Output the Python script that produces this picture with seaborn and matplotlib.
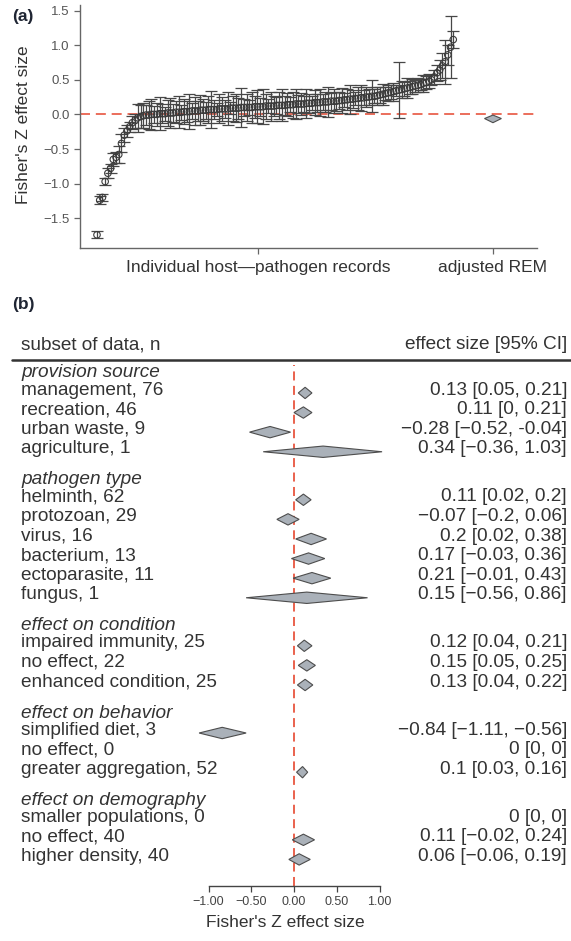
import numpy as np
import pandas as pd
import matplotlib
matplotlib.use("Agg")
import matplotlib.pyplot as plt
import seaborn as sns

# ---------------- panel (a) data: sorted record effect sizes ----------------
record_z = [
    -1.74, -1.24, -1.20, -0.97, -0.85, -0.78, -0.65, -0.62, -0.58, -0.42,
    -0.30, -0.24, -0.18, -0.12, -0.09, -0.05, -0.03,
    -0.02, -0.01, -0.01, 0.00, 0.00, 0.00, 0.01, 0.01, 0.01, 0.02, 0.02,
    0.02, 0.03, 0.03, 0.03, 0.04, 0.04, 0.04, 0.05, 0.05, 0.05,
    0.06, 0.06, 0.06, 0.07, 0.07, 0.07, 0.07, 0.08, 0.08, 0.08, 0.08,
    0.09, 0.09, 0.09, 0.09, 0.10, 0.10, 0.10, 0.10, 0.10, 0.11, 0.11,
    0.11, 0.11, 0.12, 0.12, 0.12, 0.12, 0.13, 0.13, 0.13, 0.13, 0.14,
    0.14, 0.14, 0.15, 0.15,
    0.15, 0.15, 0.16, 0.16, 0.16, 0.17, 0.17, 0.17, 0.18, 0.18, 0.18,
    0.19, 0.19, 0.19,
    0.20, 0.20, 0.21, 0.21, 0.22, 0.22, 0.23, 0.23, 0.24, 0.24, 0.25,
    0.25, 0.26, 0.26, 0.27,
    0.28, 0.29, 0.30, 0.31, 0.32, 0.33, 0.34,
    0.35, 0.36, 0.37, 0.38, 0.39, 0.40, 0.41, 0.42,
    0.43, 0.45, 0.46, 0.48, 0.50,
    0.54, 0.60, 0.64, 0.70, 0.76, 0.86, 0.97, 1.08,
]
record_ci = [
    0.05, 0.06, 0.05, 0.05, 0.07, 0.06, 0.09, 0.08, 0.12, 0.13,
    0.10, 0.08, 0.07, 0.09, 0.10, 0.20, 0.16,
    0.18, 0.15, 0.20, 0.22, 0.12, 0.17, 0.24, 0.14, 0.10, 0.19, 0.21,
    0.13, 0.16, 0.23, 0.11, 0.18, 0.15, 0.25, 0.12, 0.20, 0.14,
    0.22, 0.16, 0.12, 0.19, 0.27, 0.14, 0.10, 0.21, 0.17, 0.13, 0.24,
    0.09, 0.18, 0.20, 0.15, 0.28, 0.12, 0.19, 0.11, 0.22, 0.16, 0.24,
    0.13, 0.25, 0.18, 0.10, 0.21, 0.15, 0.12, 0.20, 0.23, 0.14, 0.17,
    0.11, 0.19, 0.22, 0.13,
    0.16, 0.12, 0.21, 0.14, 0.10, 0.18, 0.13, 0.20, 0.11, 0.15, 0.22,
    0.12, 0.17, 0.14,
    0.12, 0.18, 0.10, 0.15, 0.21, 0.13, 0.09, 0.16, 0.19, 0.11, 0.14,
    0.12, 0.23, 0.10, 0.13,
    0.11, 0.15, 0.09, 0.12, 0.10, 0.13, 0.08,
    0.40, 0.12, 0.10, 0.14, 0.09, 0.11, 0.08, 0.10,
    0.08, 0.12, 0.09, 0.10, 0.07,
    0.10, 0.12, 0.15, 0.18, 0.32, 0.14, 0.45, 0.12,
]
rem_z = -0.06
rem_lo = -0.12
rem_hi = -0.01
a_xticklabels = ["Individual host\u2014pathogen records", "adjusted REM"]
a_yticks = [-1.5, -1.0, -0.5, 0.0, 0.5, 1.0, 1.5]
a_yticklabels = ["\u22121.5", "\u22121.0", "\u22120.5", "0.0", "0.5", "1.0", "1.5"]

# ---------------- panel (b) data ----------------
group_titles = ["provision source", "pathogen type", "effect on condition",
                "effect on behavior", "effect on demography"]
subset_names = [
    ["management", "recreation", "urban waste", "agriculture"],
    ["helminth", "protozoan", "virus", "bacterium", "ectoparasite", "fungus"],
    ["impaired immunity", "no effect", "enhanced condition"],
    ["simplified diet", "no effect", "greater aggregation"],
    ["smaller populations", "no effect", "higher density"],
]
subset_n = [[76, 46, 9, 1], [62, 29, 16, 13, 11, 1], [25, 22, 25], [3, 0, 52], [0, 40, 40]]
subset_est = [[0.13, 0.11, -0.28, 0.34], [0.11, -0.07, 0.20, 0.17, 0.21, 0.15],
              [0.12, 0.15, 0.13], [-0.84, 0.0, 0.10], [0.0, 0.11, 0.06]]
subset_lo = [[0.05, 0.0, -0.52, -0.36], [0.02, -0.20, 0.02, -0.03, -0.01, -0.56],
             [0.04, 0.05, 0.04], [-1.11, 0.0, 0.03], [0.0, -0.02, -0.06]]
subset_hi = [[0.21, 0.21, -0.04, 1.03], [0.20, 0.06, 0.38, 0.36, 0.43, 0.86],
             [0.21, 0.25, 0.22], [-0.56, 0.0, 0.16], [0.0, 0.24, 0.19]]
subset_ci_text = [
    ["0.13 [0.05, 0.21]", "0.11 [0, 0.21]", "\u22120.28 [\u22120.52, -0.04]", "0.34 [\u22120.36, 1.03]"],
    ["0.11 [0.02, 0.2]", "\u22120.07 [\u22120.2, 0.06]", "0.2 [0.02, 0.38]",
     "0.17 [\u22120.03, 0.36]", "0.21 [\u22120.01, 0.43]", "0.15 [\u22120.56, 0.86]"],
    ["0.12 [0.04, 0.21]", "0.15 [0.05, 0.25]", "0.13 [0.04, 0.22]"],
    ["\u22120.84 [\u22121.11, \u22120.56]", "0 [0, 0]", "0.1 [0.03, 0.16]"],
    ["0 [0, 0]", "0.11 [\u22120.02, 0.24]", "0.06 [\u22120.06, 0.19]"],
]
b_xticks = [-1.0, -0.5, 0.0, 0.5, 1.0]
b_xticklabels = ["\u22121.00", "\u22120.50", "0.00", "0.50", "1.00"]

# ---------------- style ----------------
sns.set_theme(style="white")
plt.rcParams["font.family"] = ["Liberation Sans", "DejaVu Sans"]
TXT = "#333333"
GRID = "#666666"
RED = "#e8553f"
DIAMOND_FC = "#aab1b9"
DIAMOND_EC = "#4d4d4d"

W, H = 571, 941
fig = plt.figure(figsize=(W / 100, H / 100), dpi=100)

# ================= panel (a) =================
axa = fig.add_axes([80 / W, 1 - 248 / H, (537 - 80) / W, (248 - 5) / H])
n_rec = len(record_z)
df_a = pd.DataFrame({"pos": np.arange(1, n_rec + 1), "z": record_z, "ci": record_ci})
rem_pos = n_rec + 14.6

axa.axhline(0, color=RED, lw=1.2, ls=(0, (6, 3.5)), zorder=1)
axa.errorbar(df_a["pos"], df_a["z"], yerr=df_a["ci"], fmt="none",
             ecolor="#474747", elinewidth=0.9, capsize=4.3, capthick=0.9, zorder=2)
sns.scatterplot(data=df_a, x="pos", y="z", ax=axa, marker="o", s=22,
                facecolor="none", edgecolor="#3a3a3a", linewidth=0.8, zorder=3)

hw = 3.1
axa.fill([rem_pos - hw, rem_pos, rem_pos + hw, rem_pos],
         [rem_z, rem_hi, rem_z, rem_lo], facecolor=DIAMOND_FC,
         edgecolor=DIAMOND_EC, lw=0.8, zorder=3)

axa.set_xlim(-5.25, 162.8)
axa.set_ylim(-1.93, 1.58)
axa.set_xticks([60.2, rem_pos])
axa.set_xticklabels(a_xticklabels, fontsize=12.5, color=TXT)
axa.set_yticks(a_yticks)
axa.set_yticklabels(a_yticklabels, fontsize=9.5, color="#555555")
axa.set_xlabel("")
axa.set_ylabel("Fisher's Z effect size", fontsize=12.5, color=TXT)
axa.yaxis.set_label_coords(-0.107, 0.506)
for s in ["top", "right"]:
    axa.spines[s].set_visible(False)
for s in ["left", "bottom"]:
    axa.spines[s].set_color(GRID)
    axa.spines[s].set_linewidth(1.0)
axa.tick_params(axis="both", which="both", direction="out", length=4.5,
                width=0.9, color=GRID, left=True, bottom=True)
axa.tick_params(axis="y", pad=3)
axa.tick_params(axis="x", pad=4)

fig.text(12 / W, 1 - 16 / H, "(a)", fontsize=12.5, fontweight="bold",
         color="#1f2533", ha="left", va="center")

# ================= panel (b) =================
top_px, bot_px = 358, 886
row_px = 19.6
axb = fig.add_axes([0, 1 - bot_px / H, 1, (bot_px - top_px) / H])
axb.set_xlim(-294 / 85.5, (W - 294) / 85.5)
y_bottom = (bot_px - top_px) / row_px
axb.set_ylim(y_bottom, 0)

first_item = 1.633
head_to_item = 0.87
group_gap = 1.58

rows = []
header_rows = []
y = first_item
for gi, title in enumerate(group_titles):
    if gi > 0:
        y += group_gap + head_to_item
    header_rows.append(y - head_to_item)
    for j, name in enumerate(subset_names[gi]):
        rows.append(dict(y=y, label=f"{name}, {subset_n[gi][j]}",
                         est=subset_est[gi][j], lo=subset_lo[gi][j],
                         hi=subset_hi[gi][j], ci=subset_ci_text[gi][j]))
        if j < len(subset_names[gi]) - 1:
            y += 1.0
df_b = pd.DataFrame(rows)

FS = 13.7
ytrans = axb.get_yaxis_transform()
left_x = 21 / W
right_x = 567 / W

# header
axb.text(left_x, -0.66, "subset of data, n", transform=ytrans, ha="left",
         va="center", fontsize=FS, color=TXT)
axb.text(right_x, -0.7, "effect size [95% CI]", transform=ytrans, ha="right",
         va="center", fontsize=FS, color=TXT)
axb.axhline(0.1, xmin=12 / W, xmax=1, color="#333333", lw=1.8, clip_on=False)

# zero line
axb.axvline(0, ymin=0, ymax=1 - 0.36 / y_bottom, color=RED, lw=1.3,
            ls=(0, (5, 3)), zorder=1)

for gi, title in enumerate(group_titles):
    axb.text(left_x, header_rows[gi], title, transform=ytrans, ha="left",
             va="center", fontsize=FS, color=TXT, style="italic")

dh = 0.29
doff = 0.15
for _, r in df_b.iterrows():
    axb.text(left_x, r["y"], r["label"], transform=ytrans, ha="left",
             va="center", fontsize=FS, color=TXT)
    axb.text(right_x, r["y"], r["ci"], transform=ytrans, ha="right",
             va="center", fontsize=FS, color=TXT)
    if r["hi"] > r["lo"]:
        yc = r["y"] + doff
        axb.fill([r["lo"], r["est"], r["hi"], r["est"]],
                 [yc, yc - dh, yc, yc + dh], facecolor=DIAMOND_FC,
                 edgecolor=DIAMOND_EC, lw=0.8, zorder=3)

for s in ["top", "right", "left"]:
    axb.spines[s].set_visible(False)
axb.spines["bottom"].set_bounds(-1, 1)
axb.spines["bottom"].set_color("#444444")
axb.spines["bottom"].set_linewidth(1.0)
axb.set_yticks([])
axb.set_xticks(b_xticks)
axb.set_xticklabels(b_xticklabels, fontsize=9, color="#444444")
axb.tick_params(axis="x", direction="out", length=4.5, width=0.9,
                color="#444444", bottom=True, pad=3)
axb.set_xlabel("Fisher's Z effect size", fontsize=12.5, color=TXT, labelpad=5)

fig.text(12 / W, 1 - 305 / H, "(b)", fontsize=12.5, fontweight="bold",
         color="#1f2533", ha="left", va="center")

fig.savefig("out.png", dpi=100, facecolor="white")
